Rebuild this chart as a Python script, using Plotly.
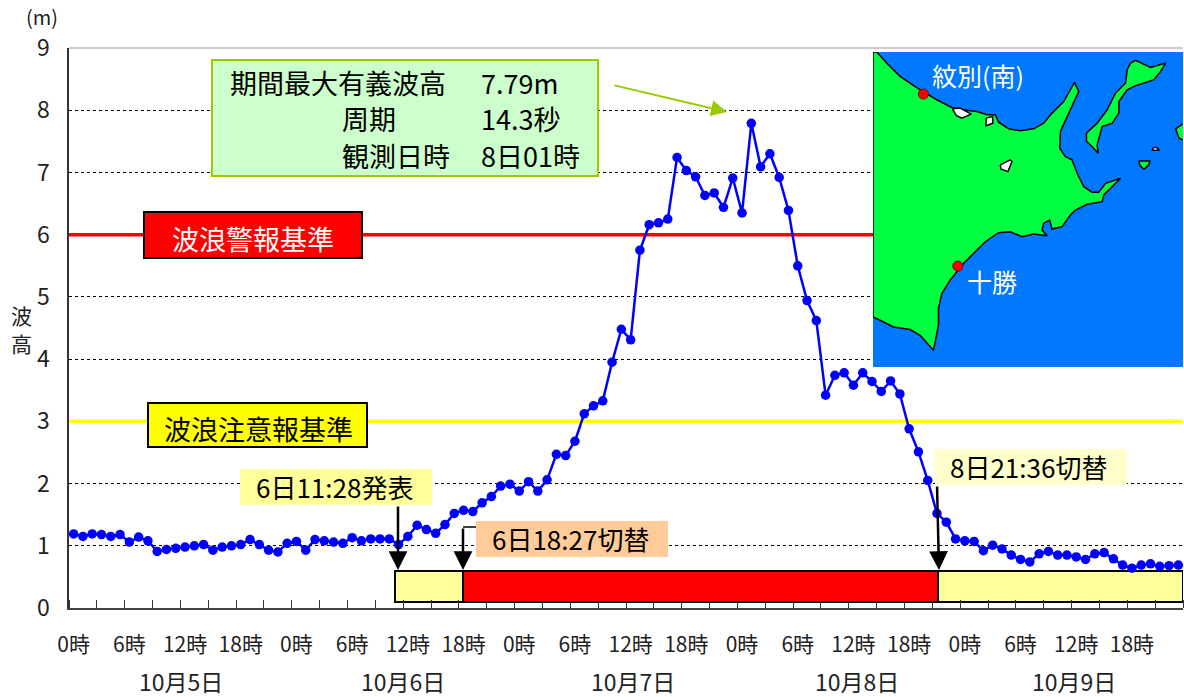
import plotly.graph_objects as go

FONT = "Noto Sans CJK JP"
wave_height = [
 1.19,1.15,1.19,1.18,1.15,1.18,1.06,1.14,1.08,0.91,0.94,0.96,0.98,1.00,1.02,0.93,0.98,1.00,1.02,1.10,1.02,0.93,0.90,1.04,
 1.07,0.93,1.10,1.08,1.06,1.04,1.13,1.08,1.11,1.11,1.11,1.02,1.15,1.33,1.26,1.20,1.34,1.52,1.57,1.55,1.69,1.79,1.96,1.99,
 1.88,2.03,1.88,2.06,2.47,2.45,2.68,3.12,3.25,3.33,3.95,4.48,4.31,5.75,6.16,6.19,6.25,7.24,7.03,6.93,6.63,6.67,6.44,6.91,
 6.35,7.79,7.09,7.30,6.92,6.39,5.50,4.94,4.62,3.42,3.74,3.78,3.58,3.78,3.64,3.48,3.65,3.44,2.88,2.51,2.05,1.52,1.38,1.11,
 1.08,1.07,0.92,1.01,0.95,0.85,0.78,0.74,0.87,0.91,0.85,0.85,0.82,0.78,0.87,0.89,0.79,0.69,0.64,0.69,0.71,0.67,0.68,0.69]
hours = list(range(len(wave_height)))
hour_ticks = list(range(0, 120, 6))
hour_labels = [f"{h % 24}時" for h in hour_ticks]
minor_ticks = [-0.5 + 3 * i for i in range(41)]
day_labels = ["10月5日", "10月6日", "10月7日", "10月8日", "10月9日"]
day_pos = [11.6, 35.5, 60.3, 84.4, 107.8]
warn_level, advisory_level = 6, 3
bar_start = [34.6, 41.9, 93.15]
bar_len = [7.3, 51.25, 26.35]
bar_colors = ["#FFFF99", "#FF0000", "#FFFF99"]

# Map inset outline
land = [(9,22),(20,22),(55,60),(90,95),(150,135),(200,165),(245,188),(275,195),(320,200),(350,210),(375,210),(385,232),(415,252),(450,258),(490,252),(520,235),(545,205),(580,170),(600,135),(612,113),(625,140),(605,185),(585,225),(570,260),(568,310),(585,335),(605,345),(620,385),(640,425),(665,442),(685,442),(705,415),(750,400),(720,430),(700,450),(695,470),(650,478),(615,495),(600,510),(575,545),(545,552),(538,525),(520,535),(515,555),(530,572),(490,567),(455,575),(420,560),(385,563),(345,590),(310,625),(280,655),(240,705),(215,745),(205,790),(205,840),(190,915),(150,870),(120,853),(70,845),(30,825),(9,815),(9,22)]
isl_a = [(780,55),(795,47),(840,68),(885,55),(870,80),(850,105),(790,125),(770,135),(745,170),(745,205),(725,235),(695,245),(680,300),(683,325),(665,305),(648,290),(648,265),(680,235),(710,195),(735,145),(765,115),(770,75),(780,55)]
isl_b = [(937,237),(915,252),(925,280),(937,285)]
isl_c = [(805,348),(838,348),(835,360),(820,373),(808,362),(805,348)]
lakes = [[(247,192),(270,190),(303,208),(275,220),(258,212),(247,192)],
         [(348,220),(367,215),(368,235),(347,243),(348,220)],
         [(390,360),(420,345),(425,350),(413,380),(392,372),(390,360)],
         [(848,308),(858,308),(866,316),(845,316),(848,308)]]
stations = [(160,148),(263,663)]

L, R, T, B = 69, 1183, 48, 608
def px(x): return (x - L) / (R - L)
def py(y): return (B - y) / (B - T)

fig = go.Figure()
fig.add_trace(go.Bar(y=[0.345]*3, x=bar_len, base=bar_start, width=0.51, orientation="h",
                     marker=dict(color=bar_colors, line=dict(color="black", width=2)), showlegend=False))
for lvl, col in [(warn_level, "#FF0000"), (advisory_level, "#FFFF00")]:
    fig.add_trace(go.Scatter(x=[-0.5, 119.5], y=[lvl, lvl], mode="lines", line=dict(color=col, width=3.5), showlegend=False))
fig.add_trace(go.Scatter(x=hours, y=wave_height, mode="lines+markers", cliponaxis=False,
                         line=dict(color="#0000FF", width=2.5), marker=dict(color="#0000FF", size=9.5), showlegend=False))

def poly(pts, fill, lw=1.5, lc="black"):
    fig.add_trace(go.Scatter(x=[p[0] for p in pts], y=[p[1] for p in pts], xaxis="x2", yaxis="y2", mode="lines",
                             fill="toself", fillcolor=fill, line=dict(color=lc, width=lw), showlegend=False))
poly([(9,22),(937,22),(937,965),(9,965),(9,22)], "#0078FF", 0, "#0078FF")
poly(land, "#00FF40")
poly(isl_a, "#00FF40")
poly(isl_b, "#00FF40")
poly(isl_c, "#00FF40")
for lk in lakes:
    poly(lk, "white")
fig.add_trace(go.Scatter(x=[p[0] for p in stations], y=[p[1] for p in stations], xaxis="x2", yaxis="y2", mode="markers",
                         marker=dict(color="#FF0000", size=10, line=dict(color="#800000", width=1)), showlegend=False))

shapes = []
def box(x0, y0, x1, y1, fill, lc=None, lw=0):
    shapes.append(dict(type="rect", xref="paper", yref="paper", x0=px(x0), x1=px(x1), y0=py(y0), y1=py(y1),
                       fillcolor=fill, line=dict(color=lc or fill, width=lw), layer="above"))
box(212, 60, 598, 176, "#CCFFCC", "#99CC00", 2)
box(144, 212, 362, 258, "#FF0000", "black", 2)
box(148, 403, 367, 447, "#FFFF00", "black", 2)
box(240, 469, 432, 505, "#FFFF99")
box(476, 521, 668, 557, "#FFCC99")
box(935, 449, 1127, 485, "#FFFFCC")
shapes.append(dict(type="line", xref="paper", yref="paper", x0=0, x1=1, y0=1, y1=1, line=dict(color="#999999", width=1)))
shapes.append(dict(type="line", xref="paper", yref="paper", x0=px(476), x1=px(463), y0=py(527), y1=py(527), line=dict(color="black", width=1.5), layer="above"))

anns = []
def text(x, y, s, size=26, color="black", anchor="center"):
    anns.append(dict(xref="paper", yref="paper", x=px(x), y=py(y), text=s, showarrow=False, xanchor=anchor, yanchor="middle",
                     font=dict(family=FONT, size=size, color=color)))
def arrow(x0, y0, x1, y1, color="black", w=2.5, size=1.5):
    anns.append(dict(xref="paper", yref="paper", axref="pixel", ayref="pixel", x=px(x1), y=py(y1), ax=x0 - x1, ay=y0 - y1,
                     text="", showarrow=True, arrowhead=2, arrowwidth=w, arrowsize=size, arrowcolor=color, standoff=0))
text(228, 82, "期間最大有義波高", 27, anchor="left")
text(479, 82, "7.79m", 27, anchor="left")
text(340, 118, "周期", 27, anchor="left")
text(479, 118, "14.3秒", 27, anchor="left")
text(340, 155, "観測日時", 27, anchor="left")
text(479, 155, "8日01時", 27, anchor="left")
text(253, 238, "波浪警報基準", 27, "white")
text(258, 428, "波浪注意報基準", 27)
text(334, 486, "6日11:28発表", 26)
text(570, 538, "6日18:27切替", 26)
text(1028, 466, "8日21:36切替", 26)
text(978, 75, "紋別(南)", 25, "white")
text(992, 281, "十勝", 25, "white")
text(42, 17, "(m)", 20, "#222222")
text(21, 315, "波", 21, "#222222")
text(21, 343, "高", 21, "#222222")
for d, x in zip(day_labels, day_pos):
    anns.append(dict(xref="x", yref="paper", x=x, y=py(681), text=d, showarrow=False, xanchor="center", yanchor="middle",
                     font=dict(family=FONT, size=23, color="#222222")))
arrow(613, 85, 727, 112, "#99CC00", 2, 1.6)
arrow(398, 505, 398, 570)
arrow(463, 527, 463, 570)
arrow(937, 485, 939, 570)

fig.update_layout(
    width=1184, height=697, margin=dict(l=L, r=1184 - R, t=T, b=697 - B), paper_bgcolor="white", plot_bgcolor="white",
    font=dict(family=FONT, color="#222222"), shapes=shapes, annotations=anns, bargap=0,
    xaxis=dict(range=[-0.5, 119.5], tickmode="array", tickvals=hour_ticks, ticktext=hour_labels, ticks="", showgrid=False,
               showline=True, linecolor="#444444", linewidth=1.5, tickfont=dict(size=21), ticklabelstandoff=17, zeroline=False,
               minor=dict(tickmode="array", tickvals=minor_ticks, ticks="inside", ticklen=8, tickcolor="#333333", tickwidth=1, showgrid=False)),
    yaxis=dict(range=[0, 9], tickvals=list(range(10)), ticks="", showline=True, linecolor="#333333", linewidth=1.5, zeroline=False,
               showgrid=True, gridcolor="#000000", griddash="3px,3px", gridwidth=1, tickfont=dict(size=23), ticklabelstandoff=13),
    xaxis2=dict(domain=[px(873), 1], range=[9, 937], visible=False, anchor="y2"),
    yaxis2=dict(domain=[py(367), py(52)], range=[965, 22], visible=False, anchor="x2"),
)
fig.write_html("out.html", post_script="document.body.style.margin='0';", config=dict(displayModeBar=False))
